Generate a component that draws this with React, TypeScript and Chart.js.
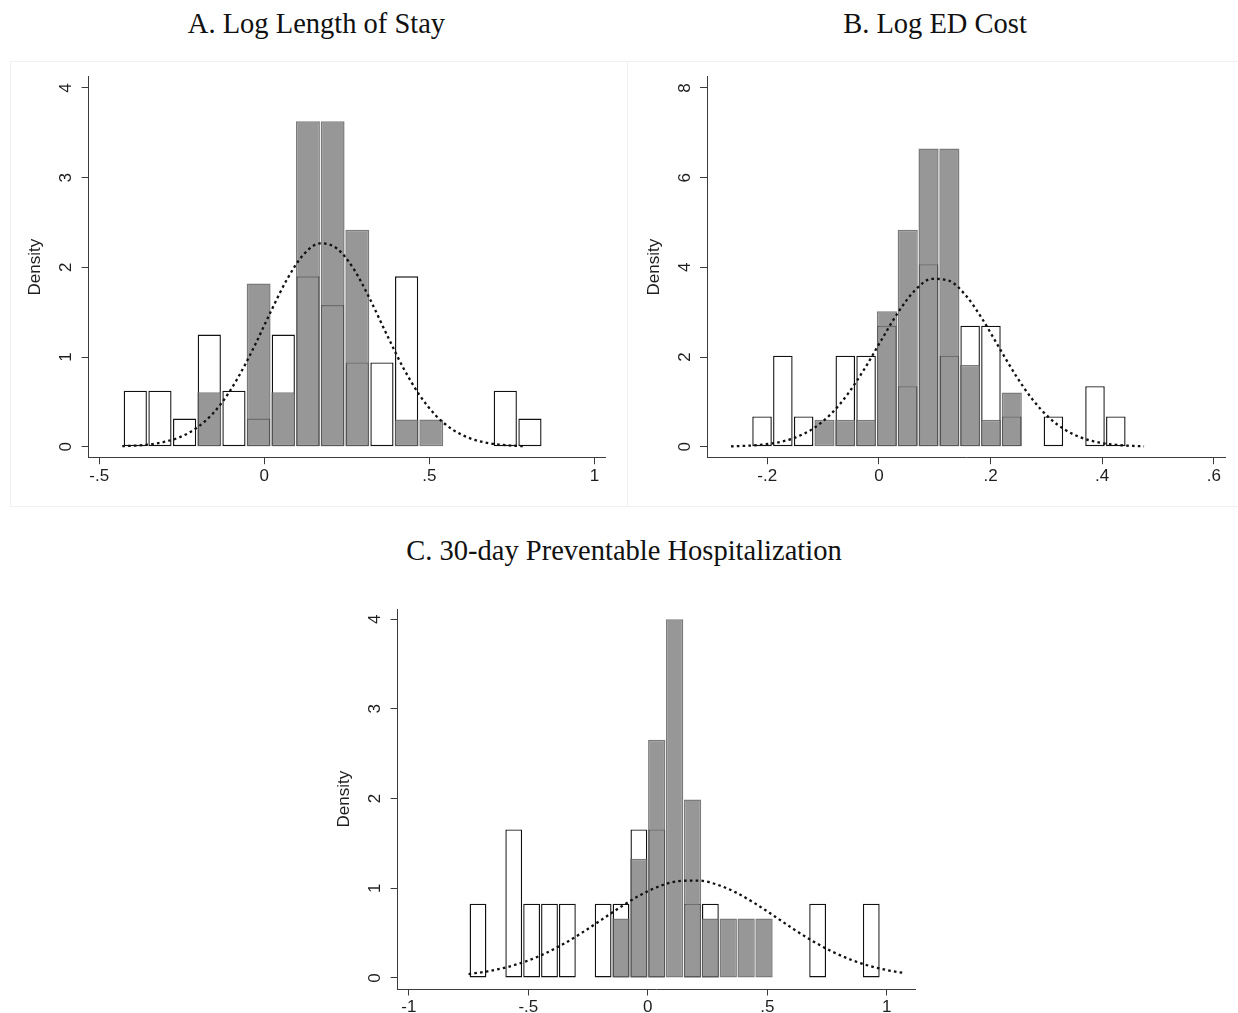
import React, { useEffect, useRef } from 'react';
import { Chart, registerables } from 'chart.js';

Chart.register(...registerables);

// ---------- Panel A: Log Length of Stay ----------
const aTitle = 'A. Log Length of Stay';
const aXTicks = [-0.5, 0, 0.5, 1];
const aXTickLabels = ['-.5', '0', '.5', '1'];
const aYTicks = [0, 1, 2, 3, 4];
const aYTickLabels = ['0', '1', '2', '3', '4'];
const aWhiteX = [-0.3906, -0.3159, -0.2412, -0.1665, -0.0918, -0.0171, 0.0576, 0.1323, 0.207, 0.2817, 0.3564, 0.4311, 0.7299, 0.8046];
const aWhiteY = [0.625, 0.625, 0.313, 1.25, 0.625, 0.313, 1.25, 1.9, 1.58, 0.94, 0.94, 1.9, 0.625, 0.313];
const aGrayX = [-0.1665, -0.0171, 0.0576, 0.1323, 0.207, 0.2817, 0.4311, 0.5058];
const aGrayY = [0.607, 1.82, 0.607, 3.63, 3.63, 2.42, 0.303, 0.303];
const aCurveX = [-0.43, -0.38, -0.33, -0.28, -0.23, -0.18, -0.13, -0.08, -0.03, 0.02, 0.07, 0.12, 0.17, 0.22, 0.27, 0.32, 0.37, 0.42, 0.47, 0.52, 0.57, 0.62, 0.67, 0.72, 0.77, 0.79];
const aCurveY = [0.0056, 0.0144, 0.0342, 0.0749, 0.151, 0.282, 0.483, 0.767, 1.119, 1.508, 1.873, 2.147, 2.268, 2.21, 1.986, 1.646, 1.258, 0.886, 0.577, 0.345, 0.191, 0.0974, 0.0457, 0.0199, 0.0079, 0.0054];

// ---------- Panel B: Log ED Cost ----------
const bTitle = 'B. Log ED Cost';
const bXTicks = [-0.2, 0, 0.2, 0.4, 0.6];
const bXTickLabels = ['-.2', '0', '.2', '.4', '.6'];
const bYTicks = [0, 2, 4, 6, 8];
const bYTickLabels = ['0', '2', '4', '6', '8'];
const bWhiteX = [-0.2094, -0.1721, -0.1348, -0.0603, -0.023, 0.0143, 0.0516, 0.0889, 0.1262, 0.1634, 0.2007, 0.238, 0.3126, 0.3871, 0.4244];
const bWhiteY = [0.675, 2.03, 0.675, 2.03, 2.03, 2.7, 1.35, 4.07, 2.03, 2.7, 2.7, 0.675, 0.675, 1.35, 0.675];
const bGrayX = [-0.0975, -0.0603, -0.023, 0.0143, 0.0516, 0.0889, 0.1262, 0.1634, 0.2007, 0.238];
const bGrayY = [0.6, 0.6, 0.6, 3.02, 4.84, 6.65, 6.65, 1.82, 0.6, 1.21];
const bCurveX = [-0.265, -0.235, -0.205, -0.175, -0.145, -0.115, -0.085, -0.055, -0.025, 0.005, 0.035, 0.065, 0.095, 0.125, 0.155, 0.185, 0.215, 0.245, 0.275, 0.305, 0.335, 0.365, 0.395, 0.425, 0.455, 0.475];
const bCurveY = [0.0082, 0.0213, 0.0509, 0.112, 0.228, 0.428, 0.742, 1.188, 1.754, 2.391, 3.008, 3.493, 3.744, 3.704, 3.383, 2.851, 2.218, 1.593, 1.056, 0.646, 0.365, 0.19, 0.0916, 0.0407, 0.0167, 0.0088];

// ---------- Panel C: 30-day Preventable Hospitalization ----------
const cTitle = 'C. 30-day Preventable Hospitalization';
const cXTicks = [-1, -0.5, 0, 0.5, 1];
const cXTickLabels = ['-1', '-.5', '0', '.5', '1'];
const cYTicks = [0, 1, 2, 3, 4];
const cYTickLabels = ['0', '1', '2', '3', '4'];
const cWhiteX = [-0.7106, -0.561, -0.4862, -0.4114, -0.3366, -0.187, -0.1122, -0.0374, 0.0374, 0.187, 0.2618, 0.7106, 0.935];
const cWhiteY = [0.828, 1.656, 0.828, 0.828, 0.828, 0.828, 0.828, 1.656, 1.656, 0.828, 0.828, 0.828, 0.828];
const cGrayX = [-0.1122, -0.0374, 0.0374, 0.1122, 0.187, 0.2618, 0.3366, 0.4114, 0.4862];
const cGrayY = [0.664, 1.328, 2.657, 4.0, 1.99, 0.664, 0.664, 0.664, 0.664];
const cCurveX = [-0.75, -0.67, -0.59, -0.51, -0.43, -0.35, -0.27, -0.19, -0.11, -0.03, 0.05, 0.13, 0.21, 0.29, 0.37, 0.45, 0.53, 0.61, 0.69, 0.77, 0.85, 0.93, 1.01, 1.075];
const cCurveY = [0.0435, 0.074, 0.1199, 0.1853, 0.273, 0.3835, 0.5136, 0.6557, 0.7981, 0.9261, 1.0244, 1.0803, 1.0861, 1.041, 0.9512, 0.8287, 0.6882, 0.5449, 0.4113, 0.2959, 0.2031, 0.1328, 0.0828, 0.0545];

const SANS = '"Liberation Sans", Arial, sans-serif';
const SERIF = '"Liberation Serif", "Times New Roman", serif';
const AXIS_COLOR = '#3c3c3c';
const TEXT_COLOR = '#1e1e1e';
const FONT_SIZE = 17;

type PanelCfg = {
  canvas: { left: number; top: number; width: number; height: number };
  area: { left: number; right: number; top: number; bottom: number };
  xRange: [number, number];
  yRange: [number, number];
  xTicks: number[];
  xTickLabels: string[];
  yTicks: number[];
  yTickLabels: string[];
  whiteX: number[];
  whiteY: number[];
  grayX: number[];
  grayY: number[];
  curveX: number[];
  curveY: number[];
};

const panels: PanelCfg[] = [
  {
    canvas: { left: 10, top: 61, width: 618, height: 446 },
    area: { left: 88.6, right: 605.7, top: 76.7, bottom: 457.7 },
    xRange: [-0.532, 1.034],
    yRange: [-0.123, 4.126],
    xTicks: aXTicks, xTickLabels: aXTickLabels, yTicks: aYTicks, yTickLabels: aYTickLabels,
    whiteX: aWhiteX, whiteY: aWhiteY, grayX: aGrayX, grayY: aGrayY, curveX: aCurveX, curveY: aCurveY,
  },
  {
    canvas: { left: 628, top: 61, width: 610, height: 446 },
    area: { left: 707, right: 1225, top: 76.7, bottom: 457.7 },
    xRange: [-0.308, 0.62],
    yRange: [-0.2455, 8.252],
    xTicks: bXTicks, xTickLabels: bXTickLabels, yTicks: bYTicks, yTickLabels: bYTickLabels,
    whiteX: bWhiteX, whiteY: bWhiteY, grayX: bGrayX, grayY: bGrayY, curveX: bCurveX, curveY: bCurveY,
  },
  {
    canvas: { left: 318, top: 590, width: 612, height: 423 },
    area: { left: 397.6, right: 915, top: 609.3, bottom: 989 },
    xRange: [-1.047, 1.118],
    yRange: [-0.123, 4.11],
    xTicks: cXTicks, xTickLabels: cXTickLabels, yTicks: cYTicks, yTickLabels: cYTickLabels,
    whiteX: cWhiteX, whiteY: cWhiteY, grayX: cGrayX, grayY: cGrayY, curveX: cCurveX, curveY: cCurveY,
  },
];

const yRotTicksPlugin = {
  id: 'yRotTicks',
  afterDraw(chart: any, _args: any, opts: any) {
    const sc = chart.scales.y;
    const ctx = chart.ctx;
    ctx.save();
    ctx.font = `${opts.size}px ${SANS}`;
    ctx.fillStyle = TEXT_COLOR;
    ctx.textAlign = 'center';
    ctx.textBaseline = 'middle';
    sc.ticks.forEach((t: any, i: number) => {
      const y = sc.getPixelForValue(t.value);
      ctx.save();
      ctx.translate(chart.chartArea.left - opts.offset, y);
      ctx.rotate(-Math.PI / 2);
      ctx.fillText(opts.labels[i], 0, 0);
      ctx.restore();
    });
    ctx.restore();
  },
};

function Panel({ cfg }: { cfg: PanelCfg }) {
  const ref = useRef<HTMLCanvasElement>(null);
  useEffect(() => {
    if (!ref.current) return;
    const c = cfg.canvas;
    const yAxisW = cfg.area.left - c.left;
    const padRight = c.left + c.width - cfg.area.right;
    const padTop = cfg.area.top - c.top;
    const xAxisH = c.top + c.height - cfg.area.bottom;
    const white = cfg.whiteX.map((x, i) => ({ x, y: cfg.whiteY[i] }));
    const gray = cfg.grayX.map((x, i) => ({ x, y: cfg.grayY[i] }));
    const curve = cfg.curveX.map((x, i) => ({ x, y: cfg.curveY[i] }));
    const tickFont = { family: SANS, size: FONT_SIZE };
    const lineH = FONT_SIZE * 1.2;
    const chart = new Chart(ref.current, {
      type: 'bar',
      data: {
        datasets: [
          {
            type: 'line',
            data: curve,
            borderColor: '#111',
            borderWidth: 2.3,
            borderDash: [2.6, 3.2],
            borderCapStyle: 'butt',
            pointRadius: 0,
            cubicInterpolationMode: 'monotone',
            fill: false,
            order: 0,
          } as any,
          {
            type: 'bar',
            data: gray,
            backgroundColor: 'rgba(130,130,130,0.83)',
            borderColor: 'rgba(100,100,100,0.85)',
            borderWidth: 1.5,
            borderSkipped: false,
            barPercentage: 0.97,
            categoryPercentage: 1,
            grouped: false,
            order: 1,
          } as any,
          {
            type: 'bar',
            data: white,
            backgroundColor: '#ffffff',
            borderColor: '#111',
            borderWidth: 1.4,
            borderSkipped: false,
            barPercentage: 0.94,
            categoryPercentage: 1,
            grouped: false,
            order: 2,
          } as any,
        ],
      },
      options: {
        responsive: false,
        animation: false,
        events: [],
        layout: { padding: { left: 0, right: padRight, top: padTop, bottom: 0 } },
        plugins: {
          legend: { display: false },
          tooltip: { enabled: false },
          yRotTicks: { labels: cfg.yTickLabels, offset: 22, size: FONT_SIZE },
        } as any,
        scales: {
          x: {
            type: 'linear',
            min: cfg.xRange[0],
            max: cfg.xRange[1],
            offset: false,
            grid: { offset: false, drawOnChartArea: false, drawTicks: true, tickLength: 6.5, color: AXIS_COLOR, lineWidth: 1 },
            border: { display: true, color: AXIS_COLOR, width: 1 },
            ticks: {
              autoSkip: false,
              maxRotation: 0,
              minRotation: 0,
              padding: 2,
              font: tickFont,
              color: TEXT_COLOR,
              callback: (_v: any, i: number) => cfg.xTickLabels[i],
            },
            afterBuildTicks: (s: any) => {
              s.ticks = cfg.xTicks.map((v) => ({ value: v }));
            },
            afterFit: (s: any) => {
              s.height = xAxisH;
            },
          } as any,
          y: {
            type: 'linear',
            min: cfg.yRange[0],
            max: cfg.yRange[1],
            grid: { drawOnChartArea: false, drawTicks: true, tickLength: 7, color: AXIS_COLOR, lineWidth: 1 },
            border: { display: true, color: AXIS_COLOR, width: 1 },
            ticks: { display: false },
            title: {
              display: true,
              text: 'Density',
              font: { family: SANS, size: FONT_SIZE },
              color: TEXT_COLOR,
              padding: { top: yAxisW - 53 - lineH / 2, bottom: 0 },
            },
            afterBuildTicks: (s: any) => {
              s.ticks = cfg.yTicks.map((v) => ({ value: v }));
            },
            afterFit: (s: any) => {
              s.width = yAxisW;
            },
          } as any,
        },
      },
      plugins: [yRotTicksPlugin as any],
    });
    return () => chart.destroy();
  }, [cfg]);
  const c = cfg.canvas;
  return (
    <canvas
      ref={ref}
      width={c.width}
      height={c.height}
      style={{ position: 'absolute', left: c.left, top: c.top, width: c.width, height: c.height }}
    />
  );
}

const titleStyle = (center: number, baseline: number): React.CSSProperties => {
  const size = 28.5;
  return {
    position: 'absolute',
    left: center - 320,
    width: 640,
    top: baseline - size * 0.8375,
    textAlign: 'center',
    fontFamily: SERIF,
    fontSize: size,
    lineHeight: 1,
    color: '#111',
    whiteSpace: 'nowrap',
  };
};

export default function App() {
  return (
    <div style={{ position: 'absolute', left: 0, top: 0, width: 1238, height: 1013, background: '#fff', overflow: 'hidden' }}>
      <div style={{ position: 'absolute', left: 10, top: 61, width: 618, height: 446, border: '1px solid #eef1f2', boxSizing: 'border-box' }} />
      <div style={{ position: 'absolute', left: 627, top: 61, width: 612, height: 446, border: '1px solid #eef1f2', boxSizing: 'border-box' }} />
      <div style={titleStyle(316.5, 34.3)}>{aTitle}</div>
      <div style={titleStyle(935, 34.3)}>{bTitle}</div>
      <div style={titleStyle(624, 560.7)}>{cTitle}</div>
      {panels.map((p, i) => (
        <Panel key={i} cfg={p} />
      ))}
    </div>
  );
}
